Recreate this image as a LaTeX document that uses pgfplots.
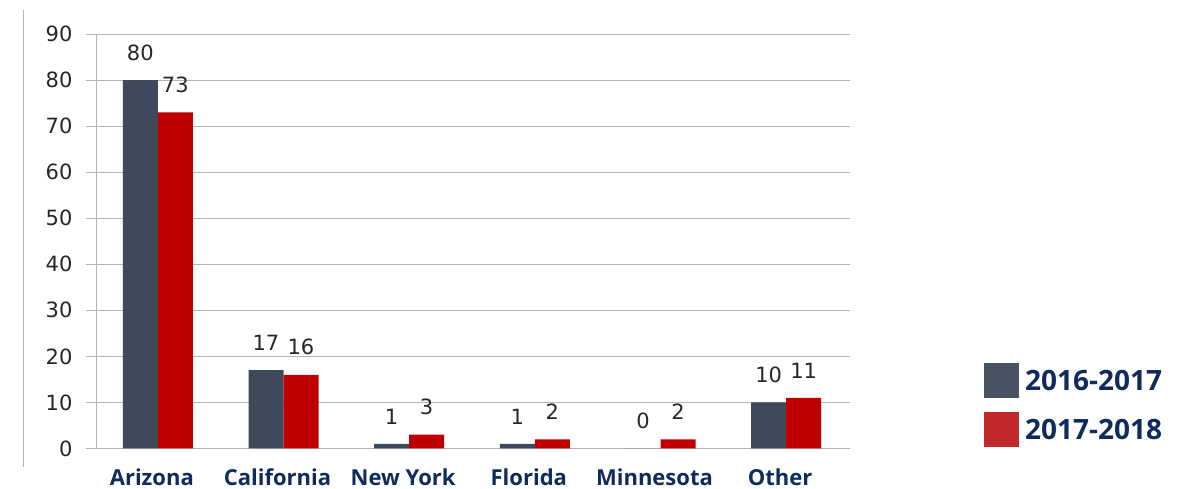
\documentclass[border=0pt]{standalone}
\usepackage{fontspec}
\setmainfont{Open Sans}
\newfontfamily\numfont{DejaVu Sans}
\usepackage{pgfplots}
\pgfplotsset{compat=1.18}
\definecolor{darkbar}{HTML}{3E4A5C}
\definecolor{redbar}{HTML}{C00000}
\definecolor{legdark}{HTML}{465162}
\definecolor{legred}{HTML}{C0282A}
\definecolor{navy}{HTML}{0F2B5E}
\definecolor{gridgray}{HTML}{B4B4B4}
\definecolor{numtext}{HTML}{262626}
\begin{document}
\begin{tikzpicture}
\useasboundingbox (0,0) rectangle (1202pt,489pt);
\draw[gridgray, line width=1pt] (23.5pt,22pt) -- (23.5pt,479pt);
\begin{axis}[
  at={(96pt,40.5pt)}, anchor=south west,
  scale only axis, width=754pt, height=414.5pt,
  clip=false,
  bar width=35pt,
  xmin=-0.5, xmax=5.5, ymin=0, ymax=90,
  ytick={0,10,...,90},
  xtick={0,...,5},
  xticklabels={Arizona,California,New York,Florida,Minnesota,Other},
  xtick style={draw=none},
  extra x ticks={-0.5,0.5,1.5,2.5,3.5,4.5,5.5},
  extra x tick labels={},
  extra x tick style={tick style={draw=gridgray, line width=1pt}, major tick length=10pt, tick align=outside},
  tick align=outside, major tick length=10pt,
  ytick style={draw=gridgray, line width=1pt},
  axis x line*=bottom, axis y line*=left,
  axis line style={draw=gridgray, line width=1pt, -},
  ymajorgrids, grid style={draw=gridgray, line width=1pt},
  /pgf/number format/assume math mode=true,
  yticklabel style={font=\numfont\fontsize{21}{21}\selectfont, text=numtext, xshift=-10pt},
  xticklabel style={font=\bfseries\fontsize{22}{22}\selectfont, text=navy, inner sep=0pt, text height=16pt, text depth=0pt, yshift=-11pt, xshift=-7pt},
  nodes near coords,
  every node near coord/.append style={font=\numfont\fontsize{21}{21}\selectfont, text=numtext, inner sep=0pt, yshift=19.5pt},
  legend image code/.code={\fill[#1] (0pt,-17.5pt) rectangle (35pt,17.5pt);},
  legend style={at={(1.1777,0.206)}, anchor=north west, draw=none, fill=none, inner sep=0pt,
    font=\bfseries\fontsize{28}{28}\selectfont, text=navy, row sep=14pt,
    nodes={inner sep=0pt}, column sep=6pt},
  legend cell align=left,
]
\addplot[ybar, bar shift=-18.5pt, fill=darkbar, draw=none, forget plot,
  every node near coord/.append style={xshift=-18.5pt}]
  coordinates {(0,80) (1,17) (2,1) (3,1) (4,0) (5,10)};
\addplot[ybar, bar shift=16.5pt, fill=redbar, draw=none, forget plot,
  every node near coord/.append style={xshift=16.5pt}]
  coordinates {(0,73) (1,16) (2,3) (3,2) (4,2) (5,11)};
\addlegendimage{fill=legdark, draw=none}
\addlegendentry{2016-2017}
\addlegendimage{fill=legred, draw=none}
\addlegendentry{2017-2018}
\end{axis}
\end{tikzpicture}
\end{document}
